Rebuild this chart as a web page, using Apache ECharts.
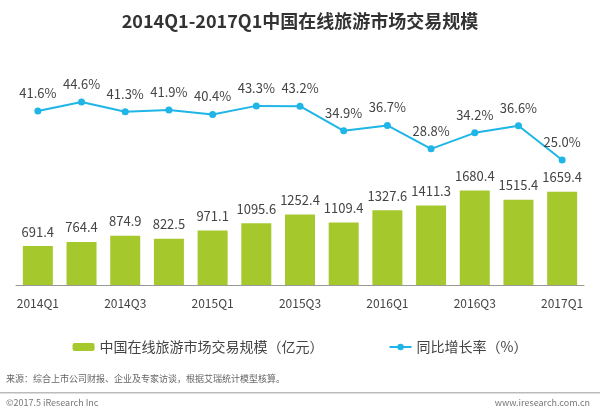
<!DOCTYPE html>
<html><head><meta charset="utf-8">
<script src="https://cdn.jsdelivr.net/npm/echarts@6/dist/echarts.min.js"></script>
<style>body{margin:0;background:#fff}#chart{width:600px;height:417px}</style>
</head><body><div id="chart"></div>
<script>
const quarters = ['2014Q1','2014Q2','2014Q3','2014Q4','2015Q1','2015Q2','2015Q3','2015Q4','2016Q1','2016Q2','2016Q3','2016Q4','2017Q1'];
const scale = [691.4,764.4,874.9,822.5,971.1,1095.6,1252.4,1109.4,1327.6,1411.3,1680.4,1515.4,1659.4];
const growth = [41.6,44.6,41.3,41.9,40.4,43.3,43.2,34.9,36.7,28.8,34.2,36.6,25.0];

const chart = echarts.init(document.getElementById('chart'));
const font = '"Noto Sans CJK SC", "Noto Sans", sans-serif';
chart.setOption({
  backgroundColor: '#fff',
  textStyle: { fontFamily: font },
  title: {
    text: '2014Q1-2017Q1中国在线旅游市场交易规模',
    left: 'center', top: 7,
    textStyle: { fontSize: 18, fontWeight: 'bold', color: '#333', fontFamily: font }
  },
  legend: {
    bottom: 58, itemGap: 65, itemWidth: 22, itemHeight: 8,
    textStyle: { fontSize: 14, color: '#444' },
    data: ['中国在线旅游市场交易规模（亿元）', '同比增长率（%）']
  },
  grid: { left: 16, right: 16, top: 60, bottom: 132 },
  xAxis: {
    type: 'category', data: quarters,
    axisTick: { show: false },
    axisLine: { lineStyle: { color: '#999' } },
    axisLabel: { interval: 1, color: '#444', fontSize: 12, margin: 12 }
  },
  yAxis: [
    { type: 'value', min: 0, max: 4000, show: false },
    { type: 'value', min: -17.2, max: 58.8, show: false }
  ],
  graphic: [
    { type: 'text', left: 6, top: 374, style: { text: '来源：综合上市公司财报、企业及专家访谈，根据艾瑞统计模型核算。', fill: '#666', font: '9px ' + font } },
    { type: 'rect', shape: { x: 0, y: 392, width: 600, height: 1.5 }, style: { fill: '#bbb' } },
    { type: 'text', left: 6, top: 398, style: { text: '©2017.5 iResearch Inc', fill: '#777', font: '9px ' + font } },
    { type: 'text', right: 10, top: 398, style: { text: 'www.iresearch.com.cn', fill: '#777', font: '9px ' + font } }
  ],
  series: [
    {
      name: '中国在线旅游市场交易规模（亿元）', type: 'bar', data: scale, barWidth: 30,
      itemStyle: { color: '#a5c82c' },
      label: { show: true, position: 'top', color: '#444', fontSize: 13, distance: 8 }
    },
    {
      name: '同比增长率（%）', type: 'line', yAxisIndex: 1, data: growth,
      symbol: 'circle', symbolSize: 7,
      lineStyle: { color: '#1fb5e6', width: 2 }, itemStyle: { color: '#1fb5e6' },
      label: { show: true, position: 'top', color: '#444', fontSize: 13, distance: 8,
        formatter: p => p.value.toFixed(1) + '%' }
    }
  ]
});
</script></body></html>
